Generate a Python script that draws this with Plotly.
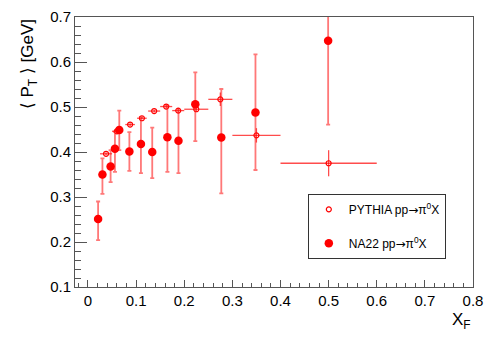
import plotly.graph_objects as go

# NA22 pp -> pi0 X (filled)
na22_x = [0.021, 0.030, 0.047, 0.056, 0.065, 0.086, 0.110, 0.1335, 0.165, 0.188, 0.223, 0.277, 0.348, 0.499]
na22_y = [0.251, 0.350, 0.368, 0.407, 0.449, 0.401, 0.418, 0.400, 0.433, 0.425, 0.506, 0.432, 0.488, 0.647]
na22_eplus = [0.039, 0.036, 0.036, 0.038, 0.043, 0.043, 0.060, 0.054, 0.070, 0.068, 0.071, 0.108, 0.129, 0.186]
na22_eminus = [0.047, 0.043, 0.035, 0.051, 0.045, 0.043, 0.065, 0.058, 0.077, 0.072, 0.082, 0.124, 0.128, 0.186]

# PYTHIA pp -> pi0 X (open)
py_x = [0.0375, 0.060, 0.0875, 0.112, 0.1375, 0.1625, 0.1875, 0.225, 0.275, 0.350, 0.500]
py_y = [0.396, 0.446, 0.461, 0.475, 0.491, 0.501, 0.492, 0.495, 0.517, 0.437, 0.375]
py_ex = [0.0125, 0.010, 0.010, 0.010, 0.0125, 0.0125, 0.0125, 0.025, 0.025, 0.050, 0.100]
py_ey = [0.003, 0.004, 0.003, 0.003, 0.003, 0.004, 0.005, 0.006, 0.015, 0.016, 0.029]

x_ticks = [0, 0.1, 0.2, 0.3, 0.4, 0.5, 0.6, 0.7, 0.8]
y_ticks = [0.1, 0.2, 0.3, 0.4, 0.5, 0.6, 0.7]

FONT = "Liberation Sans, Arial, Helvetica, sans-serif"
ARROW = '<span style="font-family:DejaVu Sans">\u2192</span>'

fig = go.Figure()
fig.add_trace(go.Scatter(
    x=py_x, y=py_y, mode="markers", name=f"PYTHIA pp{ARROW}\u03c0<sup>0</sup>X",
    legendgroup="a",
    marker=dict(symbol="circle-open", size=5, color="#ff0000", line=dict(width=1.2)),
    error_x=dict(type="data", array=py_ex, color="rgba(255,0,0,0.7)", thickness=1.3, width=0),
    error_y=dict(type="data", array=py_ey, color="rgba(255,0,0,0.7)", thickness=1.3, width=0),
))
fig.add_trace(go.Scatter(
    x=na22_x, y=na22_y, mode="markers", name=f"NA22 pp{ARROW}\u03c0<sup>0</sup>X",
    legendgroup="b",
    marker=dict(symbol="circle", size=8.5, color="#ff0000"),
    error_y=dict(type="data", symmetric=False, array=na22_eplus, arrayminus=na22_eminus,
                 color="rgba(255,30,30,0.6)", thickness=1.8, width=2),
))

axis_common = dict(
    showline=True, linecolor="#555", linewidth=1, mirror=True, automargin=False,
    showgrid=False, zeroline=False, ticks="inside", tickcolor="#555",
    tickfont=dict(family=FONT, size=15, color="black"),
)
fig.update_xaxes(
    range=[-0.027, 0.8], tickvals=x_ticks, ticktext=[f"{v:g}" for v in x_ticks],
    ticklen=7, tickwidth=1,
    minor=dict(ticks="inside", ticklen=4, tickcolor="#555", dtick=0.02, tick0=0, showgrid=False),
    **axis_common,
)
fig.update_yaxes(
    range=[0.1, 0.7], tickvals=y_ticks, ticktext=[f"{v:g}" for v in y_ticks],
    ticklen=12, tickwidth=1,
    minor=dict(ticks="inside", ticklen=6, tickcolor="#555", dtick=0.02, tick0=0.1, showgrid=False),
    **axis_common,
)

fig.add_annotation(
    text="\u27e8 P<sub>T</sub> \u27e9 [GeV]", textangle=-90,
    xref="paper", yref="paper", x=-0.115, y=1.0, xanchor="center", yanchor="top",
    showarrow=False, font=dict(family=FONT, size=17, color="black"),
)
fig.add_annotation(
    text="X<sub>F</sub>", xref="paper", yref="paper", x=1.0, y=-0.127,
    xanchor="right", yanchor="middle", showarrow=False,
    font=dict(family=FONT, size=17, color="black"),
)

fig.update_layout(
    width=498, height=339,
    margin=dict(l=75, r=25, t=17, b=52),
    plot_bgcolor="white", paper_bgcolor="white",
    font=dict(family=FONT, size=12, color="black"),
    showlegend=True,
    legend=dict(
        x=0.585, y=0.345, xanchor="left", yanchor="top",
        bordercolor="#333", borderwidth=1, bgcolor="white",
        font=dict(family=FONT, size=12), tracegroupgap=15,
        itemwidth=30,
    ),
)

fig.write_html("out.html", config={"displayModeBar": False},
               post_script="document.body.style.margin='0';")
